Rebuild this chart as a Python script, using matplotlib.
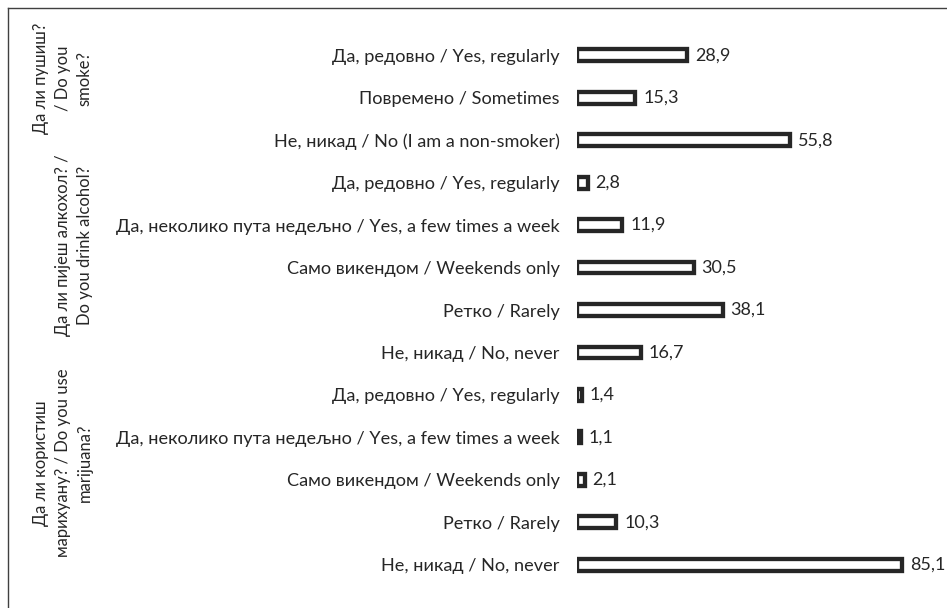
import numpy as np
import matplotlib.pyplot as plt
from matplotlib.lines import Line2D

plt.rcParams['font.family'] = ['Lato', 'DejaVu Sans']

labels = [
    'Да, редовно / Yes, regularly',
    'Повремено / Sometimes',
    'Не, никад / No (I am a non-smoker)',
    'Да, редовно / Yes, regularly',
    'Да, неколико пута недељно / Yes, a few times a week',
    'Само викендом / Weekends only',
    'Ретко / Rarely',
    'Не, никад / No, never',
    'Да, редовно / Yes, regularly',
    'Да, неколико пута недељно / Yes, a few times a week',
    'Само викендом / Weekends only',
    'Ретко / Rarely',
    'Не, никад / No, never',
]
values = [28.9, 15.3, 55.8, 2.8, 11.9, 30.5, 38.1, 16.7, 1.4, 1.1, 2.1, 10.3, 85.1]

groups = [
    'Да ли пушиш?\n/ Do you\nsmoke?',
    'Да ли пијеш алкохол? /\nDo you drink alcohol?',
    'Да ли користиш\nмарихуану? / Do you use\nmarijuana?',
]
# figure-pixel position of each group label (x, y from top)
group_pos = [(63, 78), (74, 245), (63, 463)]

W, H = 947, 608
fig = plt.figure(figsize=(W / 100, H / 100), dpi=100)
ax = fig.add_axes([577 / W, 1 - 586 / H, 367 / W, 552 / H])

text_c = '#262626'
y = np.arange(len(values))
ax.barh(y, values, height=0.28, color='white', edgecolor='#262626', linewidth=3.1)
for yi, v in zip(y, values):
    ax.text(v + 2.0, yi, f'{v:.1f}'.replace('.', ','), va='center', ha='left',
            fontsize=13, color=text_c)

ax.set_xlim(0, 96)
ax.set_ylim(len(values) - 0.5, -0.5)
ax.set_yticks(y)
ax.set_yticklabels(labels, fontsize=13.1, color=text_c)
ax.tick_params(axis='y', length=0, pad=12.5)
ax.set_xticks([])
for s in ax.spines.values():
    s.set_visible(False)

for g, (gx, gy) in zip(groups, group_pos):
    fig.text(gx / W, 1 - gy / H, g, rotation=90, ha='center', va='center',
             multialignment='center', fontsize=12, color=text_c, linespacing=1.45)

# outer frame (top and left edges)
fig.add_artist(Line2D([8 / W, 1], [1 - 8 / H, 1 - 8 / H], color='#404040', lw=1))
fig.add_artist(Line2D([8 / W, 8 / W], [1 - 8 / H, 0], color='#404040', lw=1))

fig.savefig('out.png', dpi=100)
